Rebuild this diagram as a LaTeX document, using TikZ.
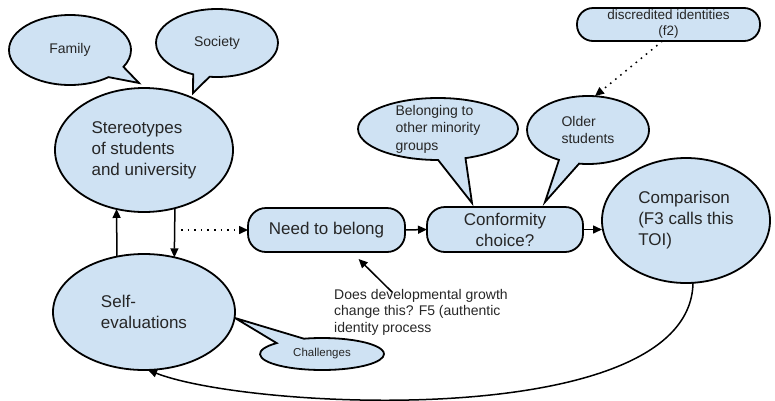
\documentclass[tikz,border=0pt]{standalone}
\usepackage{fontspec}
\setmainfont{Liberation Sans}
\usetikzlibrary{shapes.geometric,shapes.callouts,arrows.meta,calc}
\definecolor{bfill}{HTML}{CFE2F3}
\definecolor{tcol}{HTML}{262626}
\begin{document}
\begin{tikzpicture}[x=1pt,y=-1pt,
  shp/.style={draw=black,line width=1.8pt,fill=bfill,text=tcol,inner sep=0pt,outer sep=0pt},
  bigtxt/.style={font=\fontsize{17}{21}\selectfont},
  midtxt/.style={font=\fontsize{14}{17.5}\selectfont},
  ell/.style={shp,ellipse,bigtxt,align=left},
  bubble/.style={shp,ellipse callout,midtxt,align=left},
  pillbox/.style={shp,rectangle,rounded corners=18pt,bigtxt,align=center},
  conn/.style={line width=1.5pt,-{Triangle[length=9pt,width=8pt]}},
  dotconn/.style={conn,dash pattern=on 1.6pt off 5pt}]
\useasboundingbox (0,0) rectangle (775,400);

% callouts
\node[bubble,minimum width=122pt,minimum height=70pt,
      callout absolute pointer={(139,83)},callout pointer arc=22] (fam) at (70,50) {Family};
\node[bubble,minimum width=122pt,minimum height=68pt,
      callout absolute pointer={(193,93)},callout pointer arc=16] (soc) at (217,43) {Society};
\node[bubble,minimum width=160pt,minimum height=62pt,inner ysep=-6pt,
      callout absolute pointer={(472,203)},callout pointer arc=20] (bel) at (438,129) {Belonging to\\other minority\\groups};
\node[bubble,minimum width=122pt,minimum height=68pt,
      callout absolute pointer={(545,202)},callout pointer arc=20] (os) at (588,130) {Older\\students};
\node[bubble,minimum width=124pt,minimum height=32pt,font=\fontsize{11.5}{13}\selectfont,
      callout absolute pointer={(235,318)},callout pointer arc=30] (ch) at (322,354) {Challenges};

% main shapes
\node[ell,minimum width=178pt,minimum height=124pt] (st) at (144,150) {Stereotypes\\of students\\and university};
\node[ell,minimum width=182pt,minimum height=116pt] (se) at (144,312) {Self-\\evaluations};
\node[ell,minimum width=168pt,minimum height=125pt] (cmp) at (686,220.5) {Comparison\\(F3 calls this\\TOI)};
\node[pillbox,minimum width=157pt,minimum height=44pt] (nb) at (326.5,230) {Need to belong};
\node[pillbox,minimum width=156pt,minimum height=45pt] (cc) at (505,229.5) {Conformity\\choice?};
\node[pillbox,rounded corners=16pt,minimum width=183pt,minimum height=33pt,
      font=\fontsize{13.5}{16}\selectfont] (dc) at (668.5,24.5) {discredited identities\\(f2)};

% free text
\node[text=tcol,font=\fontsize{14}{16.5}\selectfont,align=left,inner sep=0pt,anchor=north west]
  (dev) at (334,289) {Does developmental growth\\change this? F5 (authentic\\identity process};

% connectors
\draw[conn] (se.116.9) -- (st.-115.4);
\draw[conn] (st.-62.8) -- (se.61.3);
\coordinate (dj) at (181,230);
\draw[dotconn] (dj) -- (nb.west);
\draw[conn] (nb.east) -- (cc.west);
\draw[conn] (cc.east) -- (cc.east -| cmp.west);
\coordinate (dvs) at (392,292);
\draw[conn,shorten >=10pt] (dvs) -- ($(nb.south)+(25,0)$);
\draw[dotconn] ($(dc.south)+(-6,0)$) -- ($(os.north)+(7,0)$);
\draw[conn] ($(cmp.south)+(7,0)$) .. controls (690,432) and (250,410) .. ($(se.south)+(4,0)$);
\end{tikzpicture}
\end{document}
